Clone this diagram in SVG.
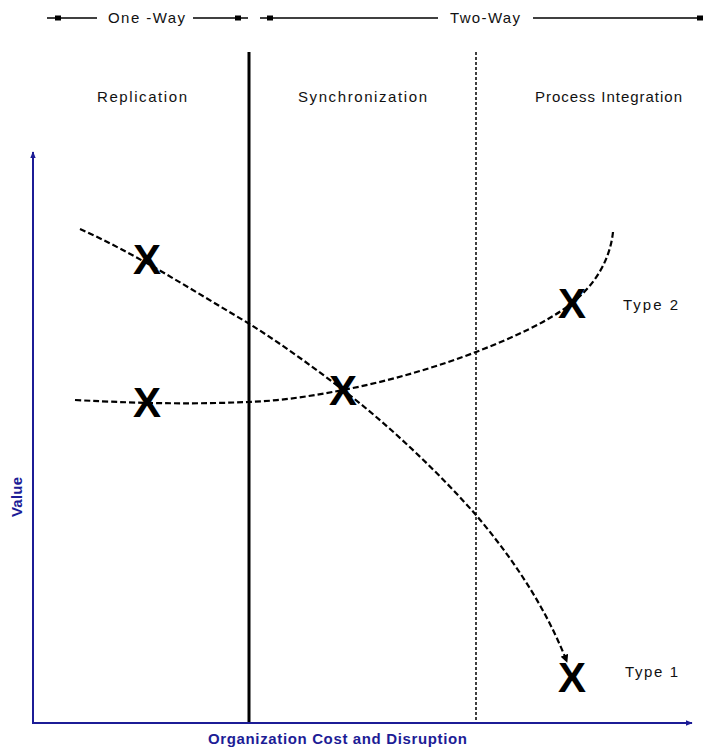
<svg xmlns="http://www.w3.org/2000/svg" width="707" height="749" viewBox="0 0 707 749">
<style>
.lbl{font-family:"Liberation Sans",Arial,sans-serif;font-size:15px;fill:#111;text-anchor:start}
.ax{font-family:"Liberation Sans",Arial,sans-serif;font-size:15px;font-weight:bold;fill:#1c1c96;text-anchor:start}
.xm{font-family:"Liberation Sans",Arial,sans-serif;font-size:42px;font-weight:bold;fill:#000;text-anchor:middle}
.bar{stroke:#000;stroke-width:1.6;fill:none}
.curve{stroke:#000;stroke-width:2.2;fill:none;stroke-dasharray:6 3}
.axis{stroke:#1c1c96;stroke-width:2;fill:none}
</style>
<defs>
<marker id="ah" viewBox="0 0 10 10" refX="9" refY="5" markerWidth="8" markerHeight="8" orient="auto" markerUnits="userSpaceOnUse">
<path d="M0,0 L10,5 L0,10 z" fill="#000"/>
</marker>
<marker id="axh" viewBox="0 0 10 10" refX="9" refY="5" markerWidth="7" markerHeight="7" orient="auto" markerUnits="userSpaceOnUse">
<path d="M0,1 L10,5 L0,9 z" fill="#1c1c96"/>
</marker>
</defs>
<rect width="707" height="749" fill="#fff"/>

<g id="scope-bar">
<line class="bar" x1="47" y1="18" x2="97" y2="18"/>
<line class="bar" x1="193" y1="18" x2="248" y2="18"/>
<rect x="55" y="15.5" width="6" height="5" fill="#000"/>
<rect x="235" y="15.5" width="6" height="5" fill="#000"/>
<text class="lbl" x="108" y="23" textLength="77" lengthAdjust="spacing">One -Way</text>
<line class="bar" x1="260" y1="18" x2="438" y2="18"/>
<line class="bar" x1="533" y1="18" x2="703" y2="18"/>
<rect x="267" y="15.5" width="6" height="5" fill="#000"/>
<rect x="697" y="15.5" width="6" height="5" fill="#000"/>
<text class="lbl" x="450" y="23" textLength="70" lengthAdjust="spacing">Two-Way</text>
</g>

<g id="zones">
<text class="lbl" x="97" y="102" textLength="90" lengthAdjust="spacing">Replication</text>
<text class="lbl" x="298" y="102" textLength="129" lengthAdjust="spacing">Synchronization</text>
<text class="lbl" x="535" y="102" textLength="147" lengthAdjust="spacing">Process Integration</text>
<line x1="249" y1="52" x2="249" y2="723" stroke="#000" stroke-width="3"/>
<line x1="476" y1="52" x2="476" y2="723" stroke="#000" stroke-width="1.5" stroke-dasharray="3 2"/>
</g>

<g id="axes">
<line class="axis" x1="33" y1="723" x2="33" y2="152" marker-end="url(#axh)"/>
<line class="axis" x1="32" y1="723" x2="692" y2="723" marker-end="url(#axh)"/>
<text class="ax" transform="translate(22,517) rotate(-90)" textLength="40" lengthAdjust="spacing">Value</text>
<text class="ax" x="208" y="744" textLength="259" lengthAdjust="spacing">Organization Cost and Disruption</text>
</g>

<g id="connectors">
<path id="type1-curve" class="curve" d="M80,229 C136,254 192,290 248,323 C280,343 312,366 343,390 C390,426 440,474 476,515 C510,555 545,605 567,662" marker-end="url(#ah)"/>
<path id="type2-curve" class="curve" d="M75,400 C150,404 200,404 248,402 C280,401 312,396 343,390 C390,381 440,366 476,352 C512,338 548,322 572,303 C595,285 610,260 613,232"/>
</g>

<g id="x1"><text class="xm" x="147" y="274">X</text></g>
<g id="x2"><text class="xm" x="147" y="417">X</text></g>
<g id="x3"><text class="xm" x="343" y="405">X</text></g>
<g id="x4"><text class="xm" x="572" y="318">X</text></g>
<g id="x5"><text class="xm" x="572" y="692">X</text></g>

<g id="type2"><text class="lbl" x="623" y="310" textLength="55" lengthAdjust="spacing">Type 2</text></g>
<g id="type1"><text class="lbl" x="625" y="677" textLength="53" lengthAdjust="spacing">Type 1</text></g>
</svg>
